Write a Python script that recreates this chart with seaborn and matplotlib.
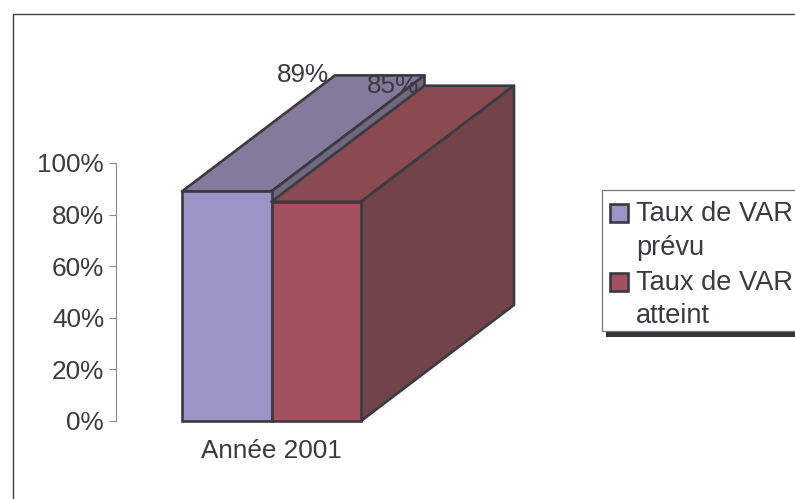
import matplotlib
matplotlib.use("Agg")
import matplotlib.pyplot as plt
from matplotlib.legend_handler import HandlerPatch
from matplotlib.lines import Line2D
from matplotlib.patches import Patch, Polygon, Rectangle
import pandas as pd
import seaborn as sns

# Chart values
years = ["Année 2001"]
series_names = ["Taux de VAR\nprévu", "Taux de VAR\natteint"]
values = [0.89, 0.85]
value_labels = ["89%", "85%"]
y_ticks = [0, 0.2, 0.4, 0.6, 0.8, 1.0]
y_tick_labels = ["0%", "20%", "40%", "60%", "80%", "100%"]

# Colours per series: front, top and side faces
front_colors = ["#9C93C6", "#A5505F"]
top_colors = ["#857A9B", "#8B4A52"]
side_colors = ["#6F6880", "#724349"]
ink = "#3A3A40"
edge = "#3A3A42"

W, H = 795, 499
sns.set_theme(style="white")
plt.rcParams["font.family"] = ["Liberation Sans", "DejaVu Sans"]
FONT = 18.8
LEGEND_FONT = 19.6

fig = plt.figure(figsize=(W / 100, H / 100), dpi=100)
# Plot area in pixels: x 116-427, y 163-421
ax = fig.add_axes([116 / W, 1 - 421 / H, 311 / W, 258 / H])

df = pd.DataFrame({"annee": years * 2, "serie": series_names, "taux": values})
sns.barplot(
    data=df, x="annee", y="taux", hue="serie", palette=front_colors,
    width=179 / 311, gap=0, saturation=1, edgecolor=edge, linewidth=1.9,
    legend=False, ax=ax, zorder=3, clip_on=False,
)
ax.set_xlim(-0.5, 0.5)
ax.set_ylim(0, 1)
ax.set_xlabel("")
ax.set_ylabel("")
ax.set_yticks(y_ticks, y_tick_labels, fontsize=FONT, color=ink)
ax.tick_params(axis="y", left=True, length=5.0, width=0.8, color="#8A8A8A", pad=3.6)
ax.tick_params(axis="x", bottom=False, pad=6.9, labelsize=FONT, labelcolor=ink)
for name, spine in ax.spines.items():
    spine.set_visible(name == "left")
ax.spines["left"].set_color("#8A8A8A")
ax.spines["left"].set_linewidth(0.8)
ax.patch.set_alpha(0)

# Extrusion of the bars, converted from pixels to data units
depth_x = 153 / 311
depth_y = 116 / 258

bars = [p for p in ax.patches if p.get_width() > 0][:2]
for i, bar in enumerate(bars):
    x0, x1 = bar.get_x(), bar.get_x() + bar.get_width()
    top = bar.get_height()
    z = 3 + i * 2
    bar.set_zorder(z + 1)
    faces = [
        ([(x0, top), (x1, top), (x1 + depth_x, top + depth_y), (x0 + depth_x, top + depth_y)], top_colors[i]),
        ([(x1, 0), (x1, top), (x1 + depth_x, top + depth_y), (x1 + depth_x, depth_y)], side_colors[i]),
    ]
    for verts, color in faces:
        ax.add_patch(Polygon(verts, closed=True, facecolor=color, edgecolor=edge,
                             linewidth=1.9, joinstyle="round", zorder=z, clip_on=False))
    ax.text((x0 + x1) / 2 + depth_x / 2, top + depth_y, value_labels[i],
            ha="center", va="center", fontsize=FONT, color=ink, zorder=10, clip_on=False)

# Chart frame: only the top and left sides fall inside the canvas
frame_kw = dict(color="#404040", linewidth=1.0, transform=fig.transFigure)
fig.add_artist(Line2D([12.5 / W, 12.5 / W], [1 - 14 / H, 0], **frame_kw))
fig.add_artist(Line2D([12.5 / W, 1], [1 - 14 / H, 1 - 14 / H], **frame_kw))

# Legend box and its drop shadow run off the right of the canvas
fig.add_artist(Rectangle((606 / W, 1 - 337 / H), 200 / W, 10 / H, transform=fig.transFigure,
                         facecolor="#35353B", edgecolor="none", zorder=2))
fig.add_artist(Rectangle((601.5 / W, 1 - 330.5 / H), 210 / W, 140.5 / H, transform=fig.transFigure,
                         facecolor="white", edgecolor="#777777", linewidth=0.9, zorder=3))


def first_line_swatch(legend, orig_handle, xdescent, ydescent, width, height, fontsize):
    # Raise the swatch so it sits beside the first line of a two-line label
    return Rectangle((-xdescent, -ydescent + 0.68 * fontsize), width, height)


handles = [Patch(facecolor=c, edgecolor=edge, linewidth=1.9) for c in front_colors]
legend = fig.legend(
    handles, series_names, loc="upper left",
    bbox_to_anchor=(601.5 / W, 1 - 193 / H), bbox_transform=fig.transFigure,
    fontsize=LEGEND_FONT, labelcolor=ink, frameon=False,
    borderaxespad=0, borderpad=0.3,
    handlelength=0.66, handleheight=0.66, handletextpad=0.3, labelspacing=0.35,
    handler_map={Patch: HandlerPatch(patch_func=first_line_swatch)},
)
legend.set_zorder(4)
for label in legend.get_texts():
    label.set_linespacing(1.37)

fig.savefig("out.png", dpi=100, facecolor="white")
